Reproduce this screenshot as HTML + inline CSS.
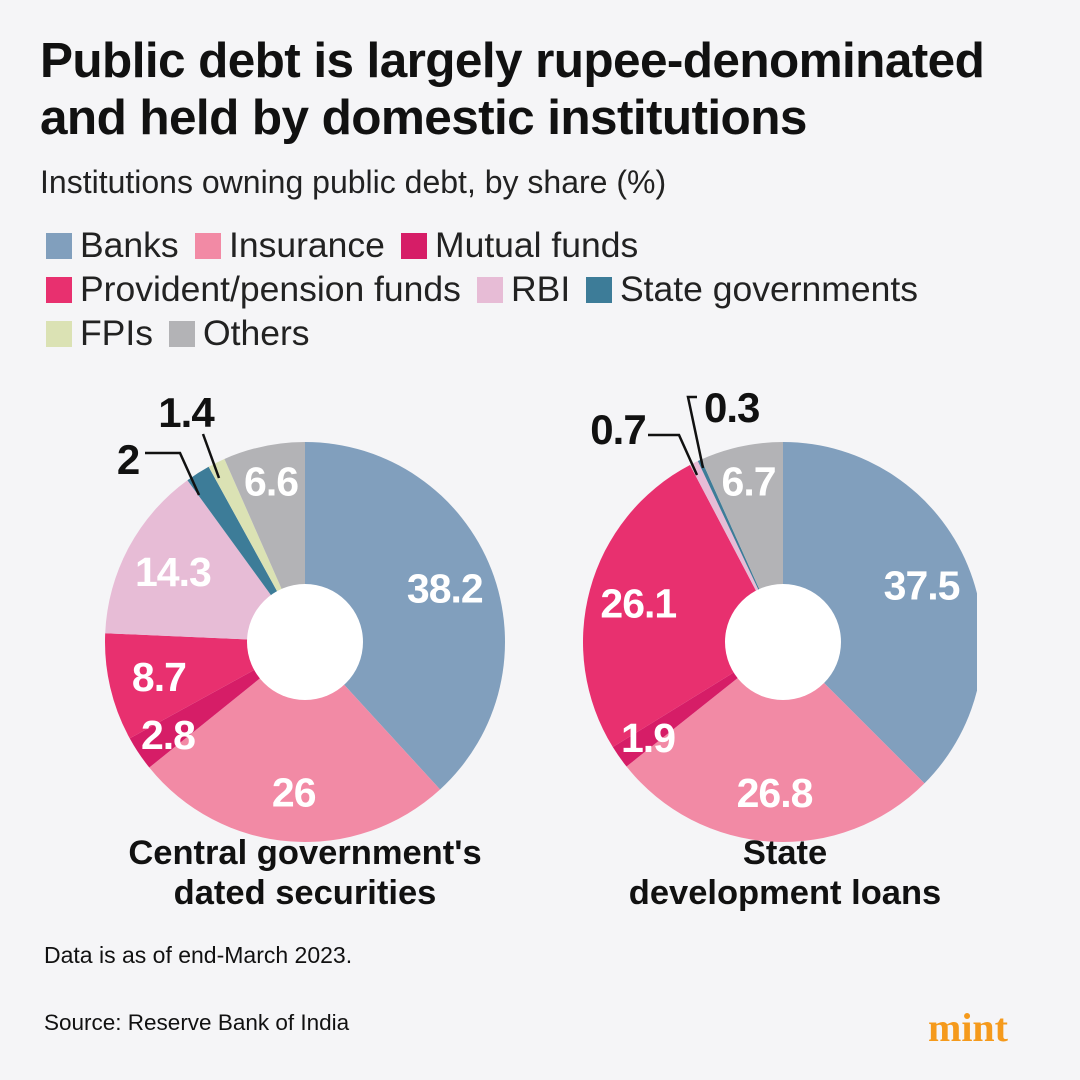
<!DOCTYPE html>
<html><head><meta charset="utf-8"><style>
body{margin:0;background:#f5f5f7;font-family:"Liberation Sans",sans-serif;}
#page{position:relative;width:1080px;height:1080px;overflow:hidden;background:#f5f5f7;}
.t{position:absolute;color:#111;white-space:nowrap;}
.leg{position:absolute;font-size:35.5px;color:#222;display:flex;align-items:center;white-space:nowrap;}
.sw{width:26px;height:26px;margin-right:8px;display:inline-block;}
</style></head><body>
<div id="page">
<div class="t" style="left:40px;top:32px;font-size:49.5px;font-weight:bold;line-height:57px;letter-spacing:-0.6px">Public debt is largely rupee-denominated<br>and held by domestic institutions</div>
<div class="t" style="left:40px;top:164px;font-size:32px;color:#222">Institutions owning public debt, by share (%)</div>
<div id="legend"></div>
<svg id="svg" width="1080" height="1080" style="position:absolute;left:0;top:0">
<defs><clipPath id="clip2"><rect x="0" y="0" width="977" height="1080"/></clipPath></defs>
</svg>
<div class="t" style="left:80px;top:833px;width:450px;text-align:center;font-size:34.5px;font-weight:bold;line-height:40px">Central government's<br>dated securities</div>
<div class="t" style="left:560px;top:833px;width:450px;text-align:center;font-size:34.5px;font-weight:bold;line-height:40px">State<br>development loans</div>
<div class="t" style="left:44px;top:942px;font-size:23px">Data is as of end-March 2023.</div>
<div class="t" style="left:44px;top:1010px;font-size:22.5px">Source: Reserve Bank of India</div>
<div class="t" style="left:928px;top:1004px;font-size:40px;font-weight:bold;color:#f59a1c;font-family:'Liberation Serif',serif">mint</div>
</div>
<script>
const categories=["Banks","Insurance","Mutual funds","Provident/pension funds","RBI","State governments","FPIs","Others"];
const colors=["#819fbd","#f28aa5","#d61d67","#e8306f","#e7bcd6","#3d7c98","#dbe2b4","#b3b3b6"];
const central=[38.2,26,2.8,8.7,14.3,2,1.4,6.6];
const sdl=[37.5,26.8,1.9,26.1,0.7,0.3,0,6.7];
const centralLabels=["38.2","26","2.8","8.7","14.3","2","1.4","6.6"];
const sdlLabels=["37.5","26.8","1.9","26.1","0.7","0.3","","6.7"];
const NS="http://www.w3.org/2000/svg";
const svg=document.getElementById('svg');
const legRows=[[0,1,2],[3,4,5],[6,7]];
const lg=document.getElementById('legend');
legRows.forEach((row,r)=>{row.forEach(i=>{const d=document.createElement('div');d.className='leg';


d.style.top=(225+r*44)+'px';
d.innerHTML='<span class="sw" style="background:'+colors[i]+'"></span>'+categories[i];lg.appendChild(d);});});
(function(){const items=[...document.querySelectorAll('.leg')];let idx=0;legRows.forEach(row=>{let x=46;row.forEach(()=>{const el=items[idx++];el.style.left=x+'px';x+=el.offsetWidth+16;});});})();
function pt(cx,cy,r,a){return [cx+r*Math.sin(a),cy-r*Math.cos(a)];}
function pie(vals,labels,cx,cy,R,name,clip,skipLabels){
  const g=document.createElementNS(NS,'g');
  
  
  if(clip)g.setAttribute('clip-path','url(#'+clip+')');
  svg.appendChild(g);
  const tot=vals.reduce((a,b)=>a+b,0);let a0=0;
  vals.forEach((v,i)=>{if(v<=0)return;const a1=a0+v/tot*2*Math.PI;
    const p0=pt(cx,cy,R,a0),p1=pt(cx,cy,R,a1);
    const p=document.createElementNS(NS,'path');
    p.setAttribute('d',`M${cx},${cy}L${p0[0]},${p0[1]}A${R},${R} 0 ${a1-a0>Math.PI?1:0} 1 ${p1[0]},${p1[1]}Z`);
    p.setAttribute('fill',colors[i]);
    
    
    g.appendChild(p);
    if(!skipLabels.includes(i)){const m=(a0+a1)/2;const lr=(v<8)?165:150;const q=pt(cx,cy,lr,m);
      const t=document.createElementNS(NS,'text');t.setAttribute('x',q[0]);t.setAttribute('y',q[1]+15);
      t.setAttribute('text-anchor','middle');t.setAttribute('fill','#fff');t.setAttribute('font-size','41');t.setAttribute('font-weight','bold');
      t.setAttribute('letter-spacing','-1');
      t.setAttribute('font-family','Liberation Sans, sans-serif');t.textContent=labels[i];
      
      
      svg.appendChild(t);}
    a0=a1;});
  const h=document.createElementNS(NS,'circle');h.setAttribute('cx',cx);h.setAttribute('cy',cy);h.setAttribute('r',58);h.setAttribute('fill','#fff');
  
  
  svg.appendChild(h);
}
pie(central,centralLabels,305,642,200,'pie-central',null,[5,6]);
pie(sdl,sdlLabels,783,642,200,'pie-sdl','clip2',[4,5,6]);
function callout(txt,tx,ty,pts,anchor){
  const l=document.createElementNS(NS,'polyline');l.setAttribute('points',pts);l.setAttribute('fill','none');l.setAttribute('stroke','#111');l.setAttribute('stroke-width','2.5');
  
  
  svg.appendChild(l);
  const t=document.createElementNS(NS,'text');t.setAttribute('x',tx);t.setAttribute('y',ty);t.setAttribute('text-anchor',anchor);
  t.setAttribute('font-size','42');t.setAttribute('font-weight','bold');t.setAttribute('fill','#111');t.setAttribute('font-family','Liberation Sans, sans-serif');
  t.setAttribute('letter-spacing','-1');t.textContent=txt;
  
  
  svg.appendChild(t);
}
callout(centralLabels[5],128,474,"145,453 180,453 199,495",'middle');
callout(centralLabels[6],186,427,"203,434 219,478",'middle');
callout(sdlLabels[4],618,444,"648,435 679,435 697,475",'middle');
callout(sdlLabels[5],704,422,"697,397 688,397 703,468",'start');
</script>
</body></html>
